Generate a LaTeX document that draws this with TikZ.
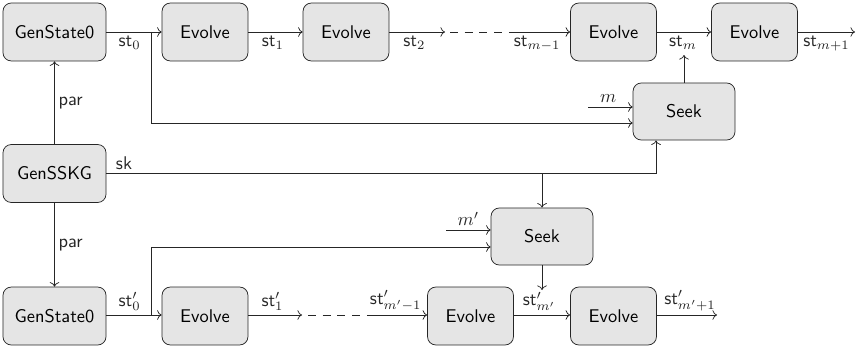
\documentclass[tikz,border=0pt]{standalone}
\usetikzlibrary{arrows.meta}
\begin{document}
\begin{tikzpicture}[x=0.5435pt,y=-0.5435pt, font=\sffamily,
  blk/.style={draw=black!85, rounded corners=4.5pt, fill=black!10, minimum height=31.5pt, inner sep=0pt},
  widebox/.style={blk, minimum width=56pt},
  evobox/.style={blk, minimum width=46.7pt},
  seekbox/.style={blk, minimum width=55.4pt, minimum height=31pt},
  conn/.style={->, black!85},
  plain/.style={black!85},
  dashline/.style={black!85, dash pattern=on 4.3pt off 3.7pt},
  lbl/.style={inner sep=2pt}
]
\useasboundingbox (0,0) rectangle (859,348);
% nodes
\node[widebox] (gs0t) at (54.5,32) {GenState0};
\node[evobox] (ev1) at (205,32) {Evolve};
\node[evobox] (ev2) at (346,32) {Evolve};
\node[evobox] (ev3) at (613.5,32) {Evolve};
\node[evobox] (ev4) at (754.5,32) {Evolve};
\node[seekbox] (sk1) at (684,111.5) {Seek};
\node[widebox] (sskg) at (54.5,173.5) {GenSSKG};
\node[widebox] (gs0b) at (54.5,316) {GenState0};
\node[evobox] (eb1) at (205,316) {Evolve};
\node[evobox] (eb2) at (470.5,316) {Evolve};
\node[evobox] (eb3) at (613.5,316) {Evolve};
\node[seekbox] (sk2) at (542,236.5) {Seek};
% coordinates
\coordinate (bt) at (151,32);
\coordinate (btd) at (151,123);
\coordinate (a2) at (445,32);
\coordinate (d1) at (450,32);
\coordinate (d2) at (510,32);
\coordinate (stm) at (684,55);
\coordinate (out1) at (855,32);
\coordinate (min) at (588,107);
\coordinate (skc) at (656,173.5);
\coordinate (skb) at (542,173.5);
\coordinate (bb) at (151,315);
\coordinate (bbu) at (151,247);
\coordinate (mpin) at (446,230);
\coordinate (b2) at (302,315);
\coordinate (e1) at (308,315);
\coordinate (e2) at (370,315);
\coordinate (stmp) at (542,290);
\coordinate (out2) at (717,315);
% top row
\draw[conn] (gs0t) -- node[lbl, below, pos=0.42] {$\mathsf{st}_0$} (ev1);
\draw[conn] (ev1) -- node[lbl, below, pos=0.45] {$\mathsf{st}_1$} (ev2);
\draw[conn] (ev2) -- node[lbl, below, pos=0.45] {$\mathsf{st}_2$} (a2);
\draw[dashline] (d1) -- (d2);
\draw[conn] (d2) -- node[lbl, below, pos=0.45] {$\mathsf{st}_{m-1}$} (ev3);
\draw[conn] (ev3) -- node[lbl, below, pos=0.48] {$\mathsf{st}_m$} (ev4);
\draw[conn] (ev4) -- node[lbl, below, pos=0.5] {$\mathsf{st}_{m+1}$} (out1);
\draw[conn] (sk1) -- (stm);
\draw[conn] (bt) -- (btd) -- (sk1.west |- btd);
\draw[conn] (min) -- node[lbl, above, pos=0.45] {$m$} (sk1.west |- min);
% middle
\draw[conn] (sskg) -- node[lbl, right] {par} (gs0t);
\draw[conn] (sskg) -- node[lbl, right] {par} (gs0b);
\draw[plain] (sskg.east) -- node[lbl, above right, pos=0, xshift=3pt] {sk} (skc);
\draw[conn] (skc) -- (skc |- sk1.south);
\draw[conn] (skb) -- (sk2);
% bottom row
\draw[conn] (gs0b.east |- bb) -- node[lbl, above, pos=0.42] {$\mathsf{st}'_0$} (eb1.west |- bb);
\draw[conn] (bb) -- (bbu) -- (sk2.west |- bbu);
\draw[conn] (mpin) -- node[lbl, above, pos=0.5] {$m'$} (sk2.west |- mpin);
\draw[conn] (eb1.east |- b2) -- node[lbl, above, pos=0.45] {$\mathsf{st}'_1$} (b2);
\draw[dashline] (e1) -- (e2);
\draw[conn] (e2) -- node[lbl, above, pos=0.45] {$\mathsf{st}'_{m'-1}$} (eb2.west |- e2);
\draw[conn] (eb2.east |- bb) -- node[lbl, above, pos=0.45] {$\mathsf{st}'_{m'}$} (eb3.west |- bb);
\draw[conn] (eb3.east |- bb) -- node[lbl, above, pos=0.55] {$\mathsf{st}'_{m'+1}$} (out2);
\draw[conn] (sk2) -- (stmp);
\end{tikzpicture}
\end{document}
